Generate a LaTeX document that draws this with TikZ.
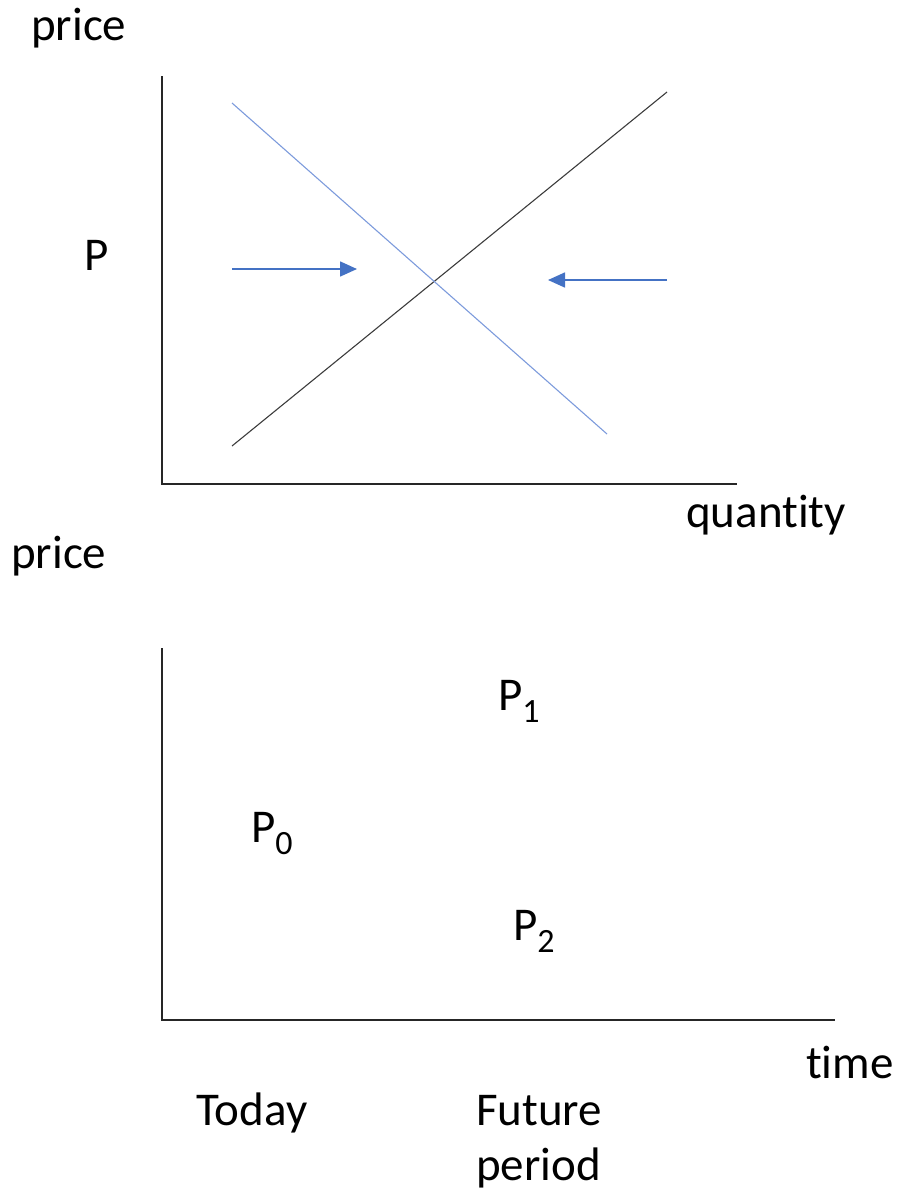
\documentclass[tikz,border=0pt]{standalone}
\usepackage{fontspec}
\setmainfont{Carlito}[RawFeature={-liga;-clig;-dlig;-calt}]
\usetikzlibrary{arrows.meta}
\definecolor{arrowblue}{RGB}{68,114,196}
\definecolor{demandblue}{RGB}{125,155,220}
\definecolor{supplygray}{RGB}{60,60,60}
\newcommand{\psub}[1]{P\raisebox{-0.26em}{\fontsize{34}{34}\selectfont #1}}
\begin{document}
\begin{tikzpicture}[x=1pt,y=-1pt,
  lbl/.style={anchor=base west,inner sep=0pt,font=\fontsize{47}{55}\selectfont},
  axis/.style={line width=1.3pt,draw=black!85},
  supply/.style={line width=1.1pt,draw=supplygray},
  demand/.style={line width=1.1pt,draw=demandblue},
  push/.style={line width=1.6pt,draw=arrowblue,-{Triangle[length=17pt,width=15pt]}}]
\useasboundingbox (0,0) rectangle (897,1192);
% top chart
\coordinate (o1) at (162,484);
\coordinate (y1) at (162,76);
\coordinate (x1) at (737,484);
\draw[axis] (y1) -- (o1) -- (x1);
\coordinate (s0) at (232,446);
\coordinate (s1) at (667,92);
\coordinate (d0) at (232,103);
\coordinate (d1) at (607,434);
\draw[supply] (s0) -- (s1);
\draw[demand] (d0) -- (d1);
\coordinate (la) at (232,269);
\coordinate (lb) at (357,269);
\coordinate (ra) at (667,280);
\coordinate (rb) at (548,280);
\draw[push] (la) -- (lb);
\draw[push] (ra) -- (rb);
\node[lbl] (price1) at (31,40) {price};
\node[lbl] (P) at (84,270) {P};
\node[lbl] (qty) at (686,527) {quant\kern0pt ity};
% bottom chart
\node[lbl] (price2) at (11,568) {price};
\coordinate (o2) at (162,1020);
\coordinate (y2) at (162,648);
\coordinate (x2) at (835,1020);
\draw[axis] (y2) -- (o2) -- (x2);
\node[lbl] (p1) at (498,710) {\psub{1}};
\node[lbl] (p0) at (251,842) {\psub{0}};
\node[lbl] (p2) at (513,940) {\psub{2}};
\node[lbl] (time) at (806,1078) {t\kern0pt ime};
\node[lbl] (today) at (196,1125) {Today};
\node[lbl] (future) at (476,1125) {Future};
\node[lbl] (period) at (476,1180) {period};
\end{tikzpicture}
\end{document}
